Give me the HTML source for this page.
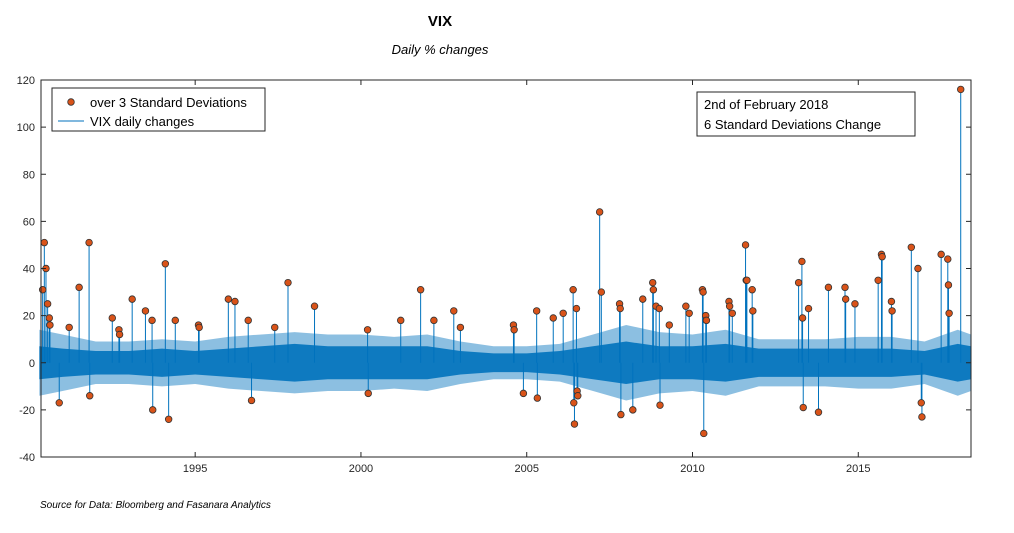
<!DOCTYPE html>
<html><head><meta charset="utf-8"><style>
body{margin:0;background:#fff;font-family:"Liberation Sans",sans-serif}
</style></head><body>
<svg width="1014" height="528" xmlns="http://www.w3.org/2000/svg" font-family="Liberation Sans, sans-serif">
<rect width="1014" height="528" fill="#fff"/>
<text x="440" y="26" text-anchor="middle" font-size="15" font-weight="bold">VIX</text>
<text x="440" y="54" text-anchor="middle" font-size="13" font-style="italic">Daily % changes</text>
<g id="plot"></g>
<text x="40" y="508" font-size="10" font-style="italic">Source for Data: Bloomberg and Fasanara Analytics</text>
</svg>
<script>
const envYears=[1990.3,1991,1992,1993,1994,1995,1996,1997,1998,1999,2000,2001,2002,2003,2004,2005,2006,2007,2008,2009,2010,2011,2012,2013,2014,2015,2016,2017,2018,2018.4];
const envOuter=[14,12,9,9,10,9,11,12,13,12,12,11,12,9,7,7,8,12,16,13,12,14,10,10,10,11,11,9,14,12];
const envInner=[7,6,5,5,6,5,6,7,8,7,7,7,7,5,4,4,5,7,9,7,7,8,6,6,6,6,6,5,8,7];
const outYears=[1990.4,1990.45,1990.5,1990.55,1990.6,1990.62,1990.9,1991.2,1991.5,1991.8,1991.82,1992.5,1992.7,1992.72,1993.1,1993.5,1993.7,1993.72,1994.1,1994.2,1994.4,1995.1,1995.12,1996.0,1996.2,1996.6,1996.7,1997.4,1997.8,1998.6,2000.2,2000.22,2001.2,2001.8,2002.2,2002.8,2003.0,2004.6,2004.62,2004.9,2005.3,2005.32,2005.8,2006.1,2006.4,2006.42,2006.44,2006.5,2006.52,2006.54,2007.2,2007.25,2007.8,2007.82,2007.84,2008.2,2008.5,2008.8,2008.82,2008.9,2009.0,2009.02,2009.3,2009.8,2009.9,2010.3,2010.32,2010.34,2010.4,2010.42,2011.1,2011.12,2011.2,2011.6,2011.62,2011.64,2011.8,2011.82,2013.2,2013.3,2013.32,2013.34,2013.5,2013.8,2014.1,2014.6,2014.62,2014.9,2015.6,2015.7,2015.72,2016.0,2016.02,2016.6,2016.8,2016.9,2016.92,2017.5,2017.7,2017.72,2017.74,2018.09];
const outValues=[31,51,40,25,19,16,-17,15,32,51,-14,19,14,12,27,22,18,-20,42,-24,18,16,15,27,26,18,-16,15,34,24,14,-13,18,31,18,22,15,16,14,-13,22,-15,19,21,31,-17,-26,23,-12,-14,64,30,25,23,-22,-20,27,34,31,24,23,-18,16,24,21,31,30,-30,20,18,26,24,21,50,35,35,31,22,34,43,19,-19,23,-21,32,32,27,25,35,46,45,26,22,49,40,-17,-23,46,44,33,21,116];
const yTicks=[-40,-20,0,20,40,60,80,100,120];
const xTicks=[1995,2000,2005,2010,2015];
const L=41,R=971,T=80,B=457;
const x=v=>L+(v-1990.35)*(R-L)/(2018.4-1990.35);
const y=v=>B-(v+40)*(B-T)/160;
const NS="http://www.w3.org/2000/svg";
const g=document.getElementById('plot');
function mk(t,a){const e=document.createElementNS(NS,t);for(const k in a)e.setAttribute(k,a[k]);g.appendChild(e);return e;}
function band(arr,op){let d='';envYears.forEach((yr,i)=>{d+=(i?'L':'M')+x(yr)+','+y(arr[i]);});for(let i=envYears.length-1;i>=0;i--)d+='L'+x(envYears[i])+','+y(-arr[i]);return d+'Z';}
const b1=mk('path',{d:band(envOuter),fill:'#0072bd','fill-opacity':0.45});


const b2=mk('path',{d:band(envInner),fill:'#0072bd','fill-opacity':0.9});


outYears.forEach((yr,i)=>{const l=mk('line',{x1:x(yr),x2:x(yr),y1:y(0),y2:y(outValues[i]),stroke:'#0072bd','stroke-width':1});

});
outYears.forEach((yr,i)=>{const c=mk('circle',{cx:x(yr),cy:y(outValues[i]),r:3.3,fill:'#d95319',stroke:'#333','stroke-width':0.8});

});
const ax=mk('rect',{x:L,y:T,width:R-L,height:B-T,fill:'none',stroke:'#262626','stroke-width':1});


yTicks.forEach(v=>{mk('line',{x1:L,x2:L+5,y1:y(v),y2:y(v),stroke:'#262626'});mk('line',{x1:R,x2:R-5,y1:y(v),y2:y(v),stroke:'#262626'});
const t=mk('text',{x:L-6,y:y(v)+4,'text-anchor':'end','font-size':11,fill:'#262626'});t.textContent=v;

});
xTicks.forEach(v=>{mk('line',{x1:x(v),x2:x(v),y1:B,y2:B-5,stroke:'#262626'});mk('line',{x1:x(v),x2:x(v),y1:T,y2:T+5,stroke:'#262626'});
const t=mk('text',{x:x(v),y:B+15,'text-anchor':'middle','font-size':11,fill:'#262626'});t.textContent=v;

});
</script>
<svg style="position:absolute;left:0;top:0" width="1014" height="528" font-family="Liberation Sans, sans-serif">
<g>
<rect x="52" y="88" width="213" height="43" fill="#fff" stroke="#262626"/>
<circle cx="71" cy="102" r="3.3" fill="#d95319" stroke="#333" stroke-width="0.8"/>
<text x="90" y="107" font-size="13">over 3 Standard Deviations</text>
<line x1="58" x2="84" y1="121" y2="121" stroke="#0072bd"/>
<text x="90" y="126" font-size="13">VIX daily changes</text>
</g>
<g>
<rect x="697" y="92" width="218" height="44" fill="#fff" stroke="#262626"/>
<text x="704" y="109" font-size="13">2nd of February 2018</text>
<text x="704" y="129" font-size="13">6 Standard Deviations Change</text>
</g>
</svg>
</body></html>
